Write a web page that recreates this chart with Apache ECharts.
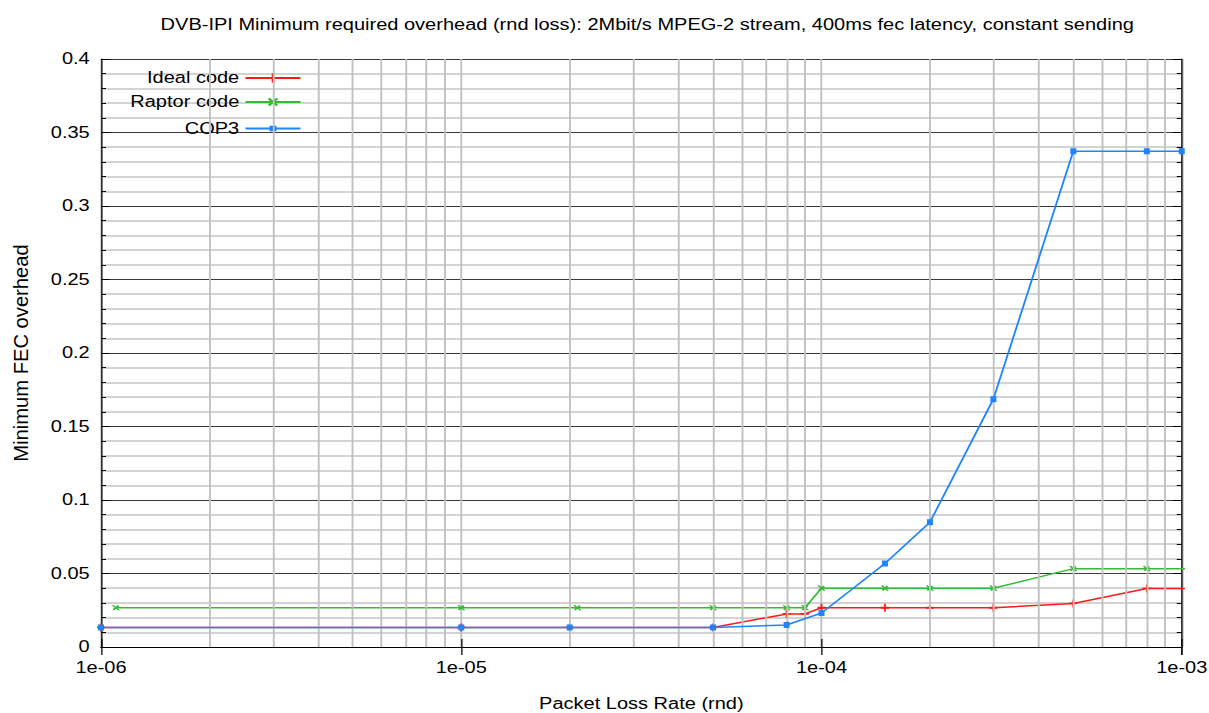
<!DOCTYPE html>
<html>
<head>
<meta charset="utf-8">
<script src="https://cdn.jsdelivr.net/npm/echarts@6/dist/echarts.min.js"></script>
<style>
html,body{margin:0;padding:0;background:#fff;overflow:hidden}
#c{width:967.2px;height:713px;transform:scaleX(1.25);transform-origin:0 0}
</style>
</head>
<body>
<div id="c"></div>
<script>
const idealX = [1e-6, 1e-5, 2e-5, 5e-5, 8e-5, 9e-5, 1e-4, 1.5e-4, 2e-4, 3e-4, 5e-4, 8e-4, 1.1e-3];
const idealY = [0.0133, 0.0133, 0.0133, 0.0133, 0.0225, 0.0225, 0.0267, 0.0267, 0.0267, 0.0267, 0.0296, 0.0398, 0.0398];
const raptorX = [1.1e-6, 1e-5, 2.1e-5, 5e-5, 8e-5, 9e-5, 1e-4, 1.5e-4, 2e-4, 3e-4, 5e-4, 8e-4, 1.1e-3];
const raptorY = [0.0267, 0.0267, 0.0267, 0.0267, 0.0267, 0.0267, 0.04, 0.04, 0.04, 0.04, 0.0533, 0.0533, 0.0533];
const cop3X = [1e-6, 1e-5, 2e-5, 5e-5, 8e-5, 1e-4, 1.5e-4, 2e-4, 3e-4, 5e-4, 8e-4, 1e-3];
const cop3Y = [0.0133, 0.0133, 0.0133, 0.0133, 0.015, 0.0231, 0.0568, 0.0849, 0.1686, 0.3373, 0.3373, 0.3373];
const minorGridX = [2e-6,3e-6,4e-6,5e-6,6e-6,7e-6,8e-6,9e-6,2e-5,3e-5,4e-5,5e-5,6e-5,7e-5,8e-5,9e-5,2e-4,3e-4,4e-4,5e-4,6e-4,7e-4,8e-4,9e-4];
const seriesNames = ['Ideal code', 'Raptor code', 'COP3'];
const yRange = [0, 0.4];

const FONT = 'Liberation Sans, Arial, sans-serif';
const S = 1.25; // horizontal stretch of the reference picture
const W = 1209 / S;
const pair = (xs, ys) => xs.map((x, i) => [x, ys[i]]);
const plusPath = 'path://M-1,-0.22H1V0.22H-1Z M-0.22,-1H0.22V1H-0.22Z';
const fmtX = v => { const e = Math.round(Math.log10(v)); return '1e' + (e < 0 ? '-' : '+') + String(Math.abs(e)).padStart(2, '0'); };

const chart = echarts.init(document.getElementById('c'), null, { renderer: 'svg' });
const legendTops = [71, 95, 119];
const legendHeights = [12, 12, 7];
chart.setOption({
  animation: false,
  backgroundColor: '#fff',
  title: {
    text: 'DVB-IPI Minimum required overhead (rnd loss): 2Mbit/s MPEG-2 stream, 400ms fec latency, constant sending',
    left: 641 / S, textAlign: 'center', top: 12,
    textStyle: { fontFamily: FONT, fontSize: 16, fontWeight: 'normal', color: '#000' }
  },
  graphic: [{
    type: 'text', x: 21 / S, y: 353, rotation: Math.PI / 2, scaleX: 1.26,
    silent: true,
    style: { text: 'Minimum FEC overhead', fontFamily: FONT, fontSize: 16, fill: '#000', textAlign: 'center', textVerticalAlign: 'middle' }
  }],
  legend: seriesNames.map((n, i) => ({
    data: [n], orient: 'vertical', right: W - 302 / S, top: legendTops[i] + (10 - legendHeights[i]) / 2, align: 'right',
    itemWidth: 55 / S, itemHeight: legendHeights[i], padding: 0,
    textStyle: { fontFamily: FONT, fontSize: 16, color: '#000' }
  })),
  grid: { left: 101 / S, right: 27 / S, top: 59, bottom: 66, containLabel: false, outerBoundsMode: 'none' },
  xAxis: [{
    type: 'log', logBase: 10, min: 1e-6, max: 1e-3,
    name: 'Packet Loss Rate (rnd)', nameLocation: 'middle', nameGap: 49,
    nameTextStyle: { fontFamily: FONT, fontSize: 16, color: '#000' },
    axisLine: { show: true, lineStyle: { color: '#000', width: 1 } },
    axisTick: { show: true, inside: true, length: 8, lineStyle: { color: '#000' } },
    axisLabel: { formatter: fmtX, fontFamily: FONT, fontSize: 16, color: '#000', margin: 13 },
    splitLine: { show: true, lineStyle: { color: '#c0c0c0', width: 1.5 } }
  }, {
    type: 'log', logBase: 10, min: 1e-6, max: 1e-3, position: 'top',
    axisLine: { show: true, lineStyle: { color: '#000', width: 1 } },
    axisTick: { show: true, inside: true, length: 8, lineStyle: { color: '#000' } },
    axisLabel: { show: false }, splitLine: { show: false }
  }],
  yAxis: [{
    type: 'value', min: yRange[0], max: yRange[1], interval: 0.05,
    axisLine: { show: true, lineStyle: { color: '#000', width: 1 } },
    axisTick: { show: true, inside: true, length: 7, lineStyle: { color: '#000' } },
    minorTick: { show: true, splitNumber: 5, length: 4, lineStyle: { color: '#000' } },
    axisLabel: { fontFamily: FONT, fontSize: 16, color: '#000', margin: 9 },
    splitLine: { show: true, lineStyle: { color: '#3a3a3a', width: 1 } },
    minorSplitLine: { show: true, lineStyle: { color: '#c4c4c4', width: 1.5 } }
  }, {
    type: 'value', min: yRange[0], max: yRange[1], interval: 0.05, position: 'right',
    axisLine: { show: true, lineStyle: { color: '#000', width: 1 } },
    axisTick: { show: true, inside: true, length: 7, lineStyle: { color: '#000' } },
    minorTick: { show: true, splitNumber: 5, length: 4, lineStyle: { color: '#000' } },
    axisLabel: { show: false }, splitLine: { show: false }
  }],
  series: [{
    type: 'line', name: '_grid', data: [[1e-6, 0]], silent: true, z: 1,
    showSymbol: false, lineStyle: { opacity: 0 },
    markLine: {
      silent: true, symbol: ['none', 'none'], animation: false,
      label: { show: false },
      lineStyle: { color: '#c0c0c0', width: 1.5, type: 'solid' },
      data: minorGridX.map(v => [{ coord: [v, yRange[0]] }, { coord: [v, yRange[1]] }])
    }
  }, {
    type: 'line', name: seriesNames[0], data: pair(idealX, idealY), z: 3,
    symbol: plusPath, symbolSize: [8 / S, 8], showAllSymbol: true, clip: true,
    itemStyle: { color: '#ff1a1a' }, lineStyle: { color: '#ff1a1a', width: 1.5 }
  }, {
    type: 'line', name: seriesNames[1], data: pair(raptorX, raptorY), z: 4,
    symbol: plusPath, symbolRotate: 45, symbolSize: [7.5 / S, 7.5], showAllSymbol: true, clip: true,
    itemStyle: { color: '#33bb33' }, lineStyle: { color: '#33bb33', width: 1.5 }
  }, {
    type: 'line', name: seriesNames[2], data: pair(cop3X, cop3Y), z: 5,
    symbol: 'rect', symbolSize: [6 / S, 6], showAllSymbol: true, clip: true,
    itemStyle: { color: '#1f85ff' }, lineStyle: { color: '#1f85ff', width: 1.5 }
  }]
});
</script>
</body>
</html>
